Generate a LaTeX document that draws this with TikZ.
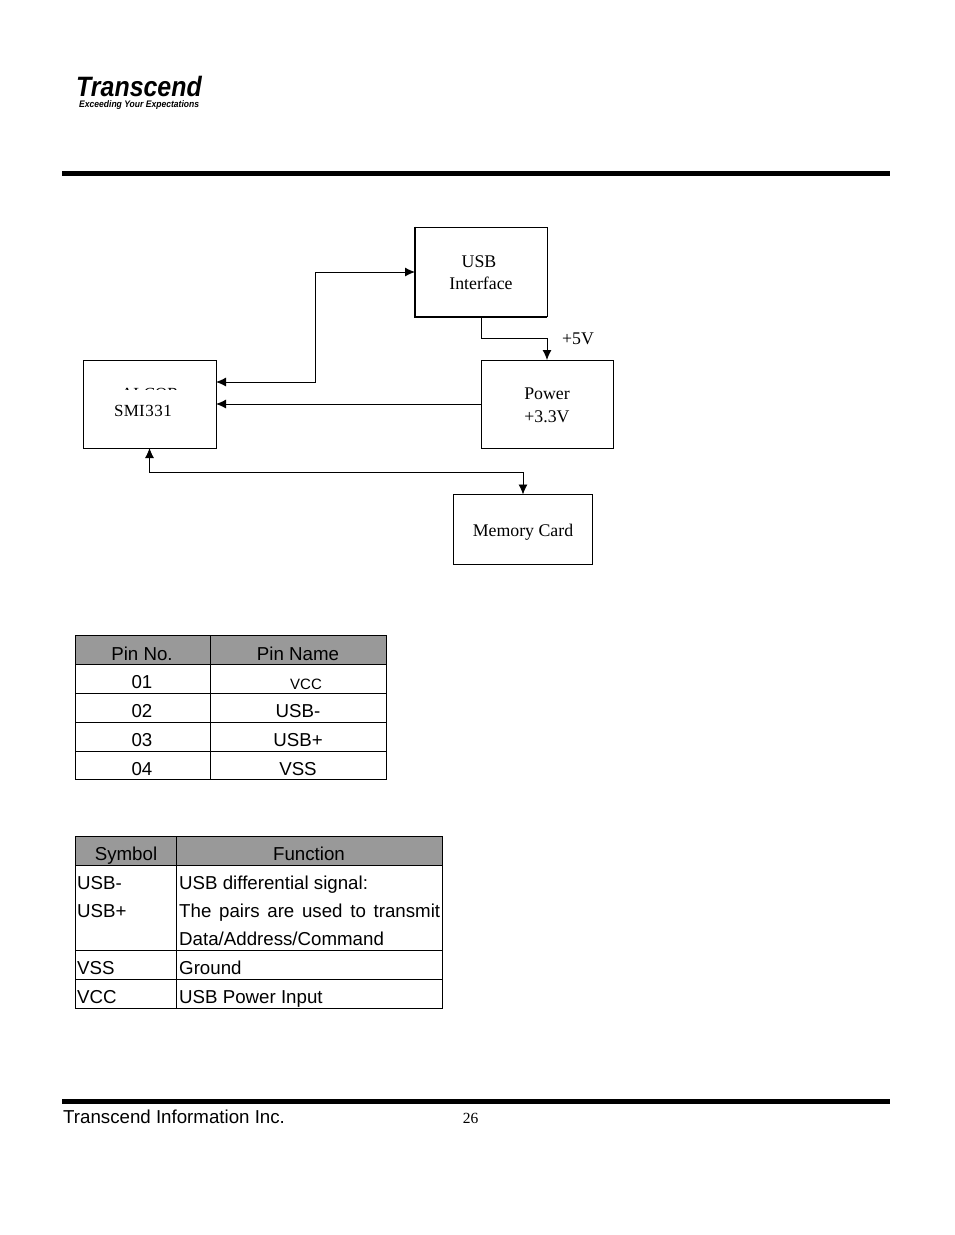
\documentclass[tikz,border=0pt]{standalone}
\usepackage{fontspec}
\setmainfont{Liberation Serif}
\setsansfont{Liberation Sans}
\usetikzlibrary{arrows.meta,calc}
\newcommand{\ft}[1]{\fontsize{#1}{#1}\selectfont}
\tikzset{
  x=1pt,y=-1pt,
  blockbox/.style={draw=black,line width=1pt,fill=white,align=center,inner sep=0pt,outer sep=0pt},
  blocktext/.style={anchor=base,inner sep=0pt,font=\ft{17.8}\rmfamily},
  link/.style={draw=black,line width=0.9pt,-{Latex[length=10pt,width=9pt]}},
  linkboth/.style={draw=black,line width=0.9pt,{Latex[length=10pt,width=9pt]}-{Latex[length=10pt,width=9pt]}},
  rulebar/.style={fill=black,draw=none},
  grid/.style={draw=black,line width=0.9pt},
  headfill/.style={fill=black!40,draw=none},
  tcell/.style={anchor=base,inner sep=0pt,font=\ft{18.7}\sffamily},
  lcell/.style={anchor=base west,inner sep=0pt,font=\ft{18.7}\sffamily},
}
\begin{document}
\begin{tikzpicture}
\useasboundingbox (0,0) rectangle (954,1235);
\fill[white] (0,0) rectangle (954,1235);
% logo
\node[anchor=base west,inner sep=0pt] (logo) at (76,96) {\scalebox{.89}[1]{\ft{28}\sffamily\bfseries\itshape Transcend}};
\node[anchor=base west,inner sep=0pt] (tag) at (79,107) {\scalebox{.9}[1]{\ft{9.5}\sffamily\bfseries\itshape Exceeding Your Expectations}};
% rules
\fill[rulebar] (62,171) rectangle (890,176);
\fill[rulebar] (62,1099) rectangle (890,1104);
% blocks
\node[blockbox,minimum width=133pt,minimum height=88pt] (smi) at (149.5,404) {};
\begin{scope}
\clip (100,384) rectangle (200,389);
\node[blocktext,font=\ft{17}\rmfamily] (alcor) at (150,399) {ALCOR};
\end{scope}
\node[blocktext,font=\ft{17}\rmfamily] (smit) at (143,416) {S\kern.2pt M\kern.2pt I\kern.5pt 3\kern.5pt 3\kern.5pt 1};
\node[blockbox,minimum width=132pt,minimum height=89pt] (usb) at (481,272) {};
\draw[line width=2pt] ([yshift=1pt]usb.north west) -- (usb.south west) -- ([xshift=-0.5pt]usb.south east);
\node[blocktext] (usbt) at (479,267) {USB};
\node[blocktext] (ift) at (481,289) {Interface};
\node[blockbox,minimum width=132pt,minimum height=88pt] (pow) at (547,404) {};
\node[blocktext] (powt) at (547,399) {Power};
\node[blocktext] (v33) at (547,422) {+3.3V};
\node[blockbox,minimum width=139pt,minimum height=70pt] (mem) at (523,529.5) {};
\node[blocktext] (memt) at (523,536) {Memory Card};
\node[blocktext] (v5) at (578,344) {+5V};
% connectors
\coordinate (smiA) at ($(smi.north east)+(0,22)$);
\coordinate (bend) at (315.5,382);
\draw[linkboth] (smiA) -- (bend) |- (usb.west);
\draw[link] (pow.west) -- (smi.east);
\coordinate (usbdrop) at (481,338);
\draw[link] (usb.south) -- (usbdrop) -| (pow.north);
\coordinate (membus) at (523,472.5);
\draw[linkboth] (smi.south) |- (membus) -- (mem.north);
% table 1
\fill[headfill] (75,635) rectangle (386,664.5);
\draw[grid] (75,635) rectangle (386,779.5);
\draw[grid] (210.5,635) -- (210.5,779.5);
\foreach \yy in {664.5,693.5,722.5,751.5} \draw[grid] (75,\yy) -- (386,\yy);
\node[tcell] (p0) at (142,660) {Pin No.};
\node[tcell] (n0) at (298,660) {Pin Name};
\node[tcell] (p1) at (142,688) {01};
\node[tcell,font=\ft{15}\sffamily] (n1) at (306,689) {VCC};
\node[tcell] (p2) at (142,717) {02};
\node[tcell] (n2) at (298,717) {USB-};
\node[tcell] (p3) at (142,746) {03};
\node[tcell] (n3) at (298,746) {USB+};
\node[tcell] (p4) at (142,775) {04};
\node[tcell] (n4) at (298,775) {VSS};
% table 2
\fill[headfill] (75,836.5) rectangle (442.5,865.5);
\draw[grid] (75,836.5) rectangle (442.5,1008);
\draw[grid] (176,836.5) -- (176,1008);
\foreach \yy in {865.5,950.5,979.5} \draw[grid] (75,\yy) -- (442.5,\yy);
\node[tcell] (s0) at (126,860) {Symbol};
\node[tcell] (f0) at (309,860) {Function};
\node[lcell] (s1) at (77,889) {USB-};
\node[lcell] (s2) at (77,917) {USB+};
\node[lcell] (f1) at (179,889) {USB differential signal:};
\node[lcell] (f2) at (179,917) {\makebox[261pt][s]{The pairs are used to transmit}};
\node[lcell] (f3) at (179,945) {Data/Address/Command};
\node[lcell] (s3) at (77,974) {VSS};
\node[lcell] (f4) at (179,974) {Ground};
\node[lcell] (s4) at (77,1003) {VCC};
\node[lcell] (f5) at (179,1003) {USB Power Input};
% footer
\node[lcell] (foot) at (63,1123) {Transcend Information Inc.};
\node[blocktext,font=\ft{15.5}\rmfamily] (page) at (470.5,1123) {26};
\end{tikzpicture}
\end{document}
